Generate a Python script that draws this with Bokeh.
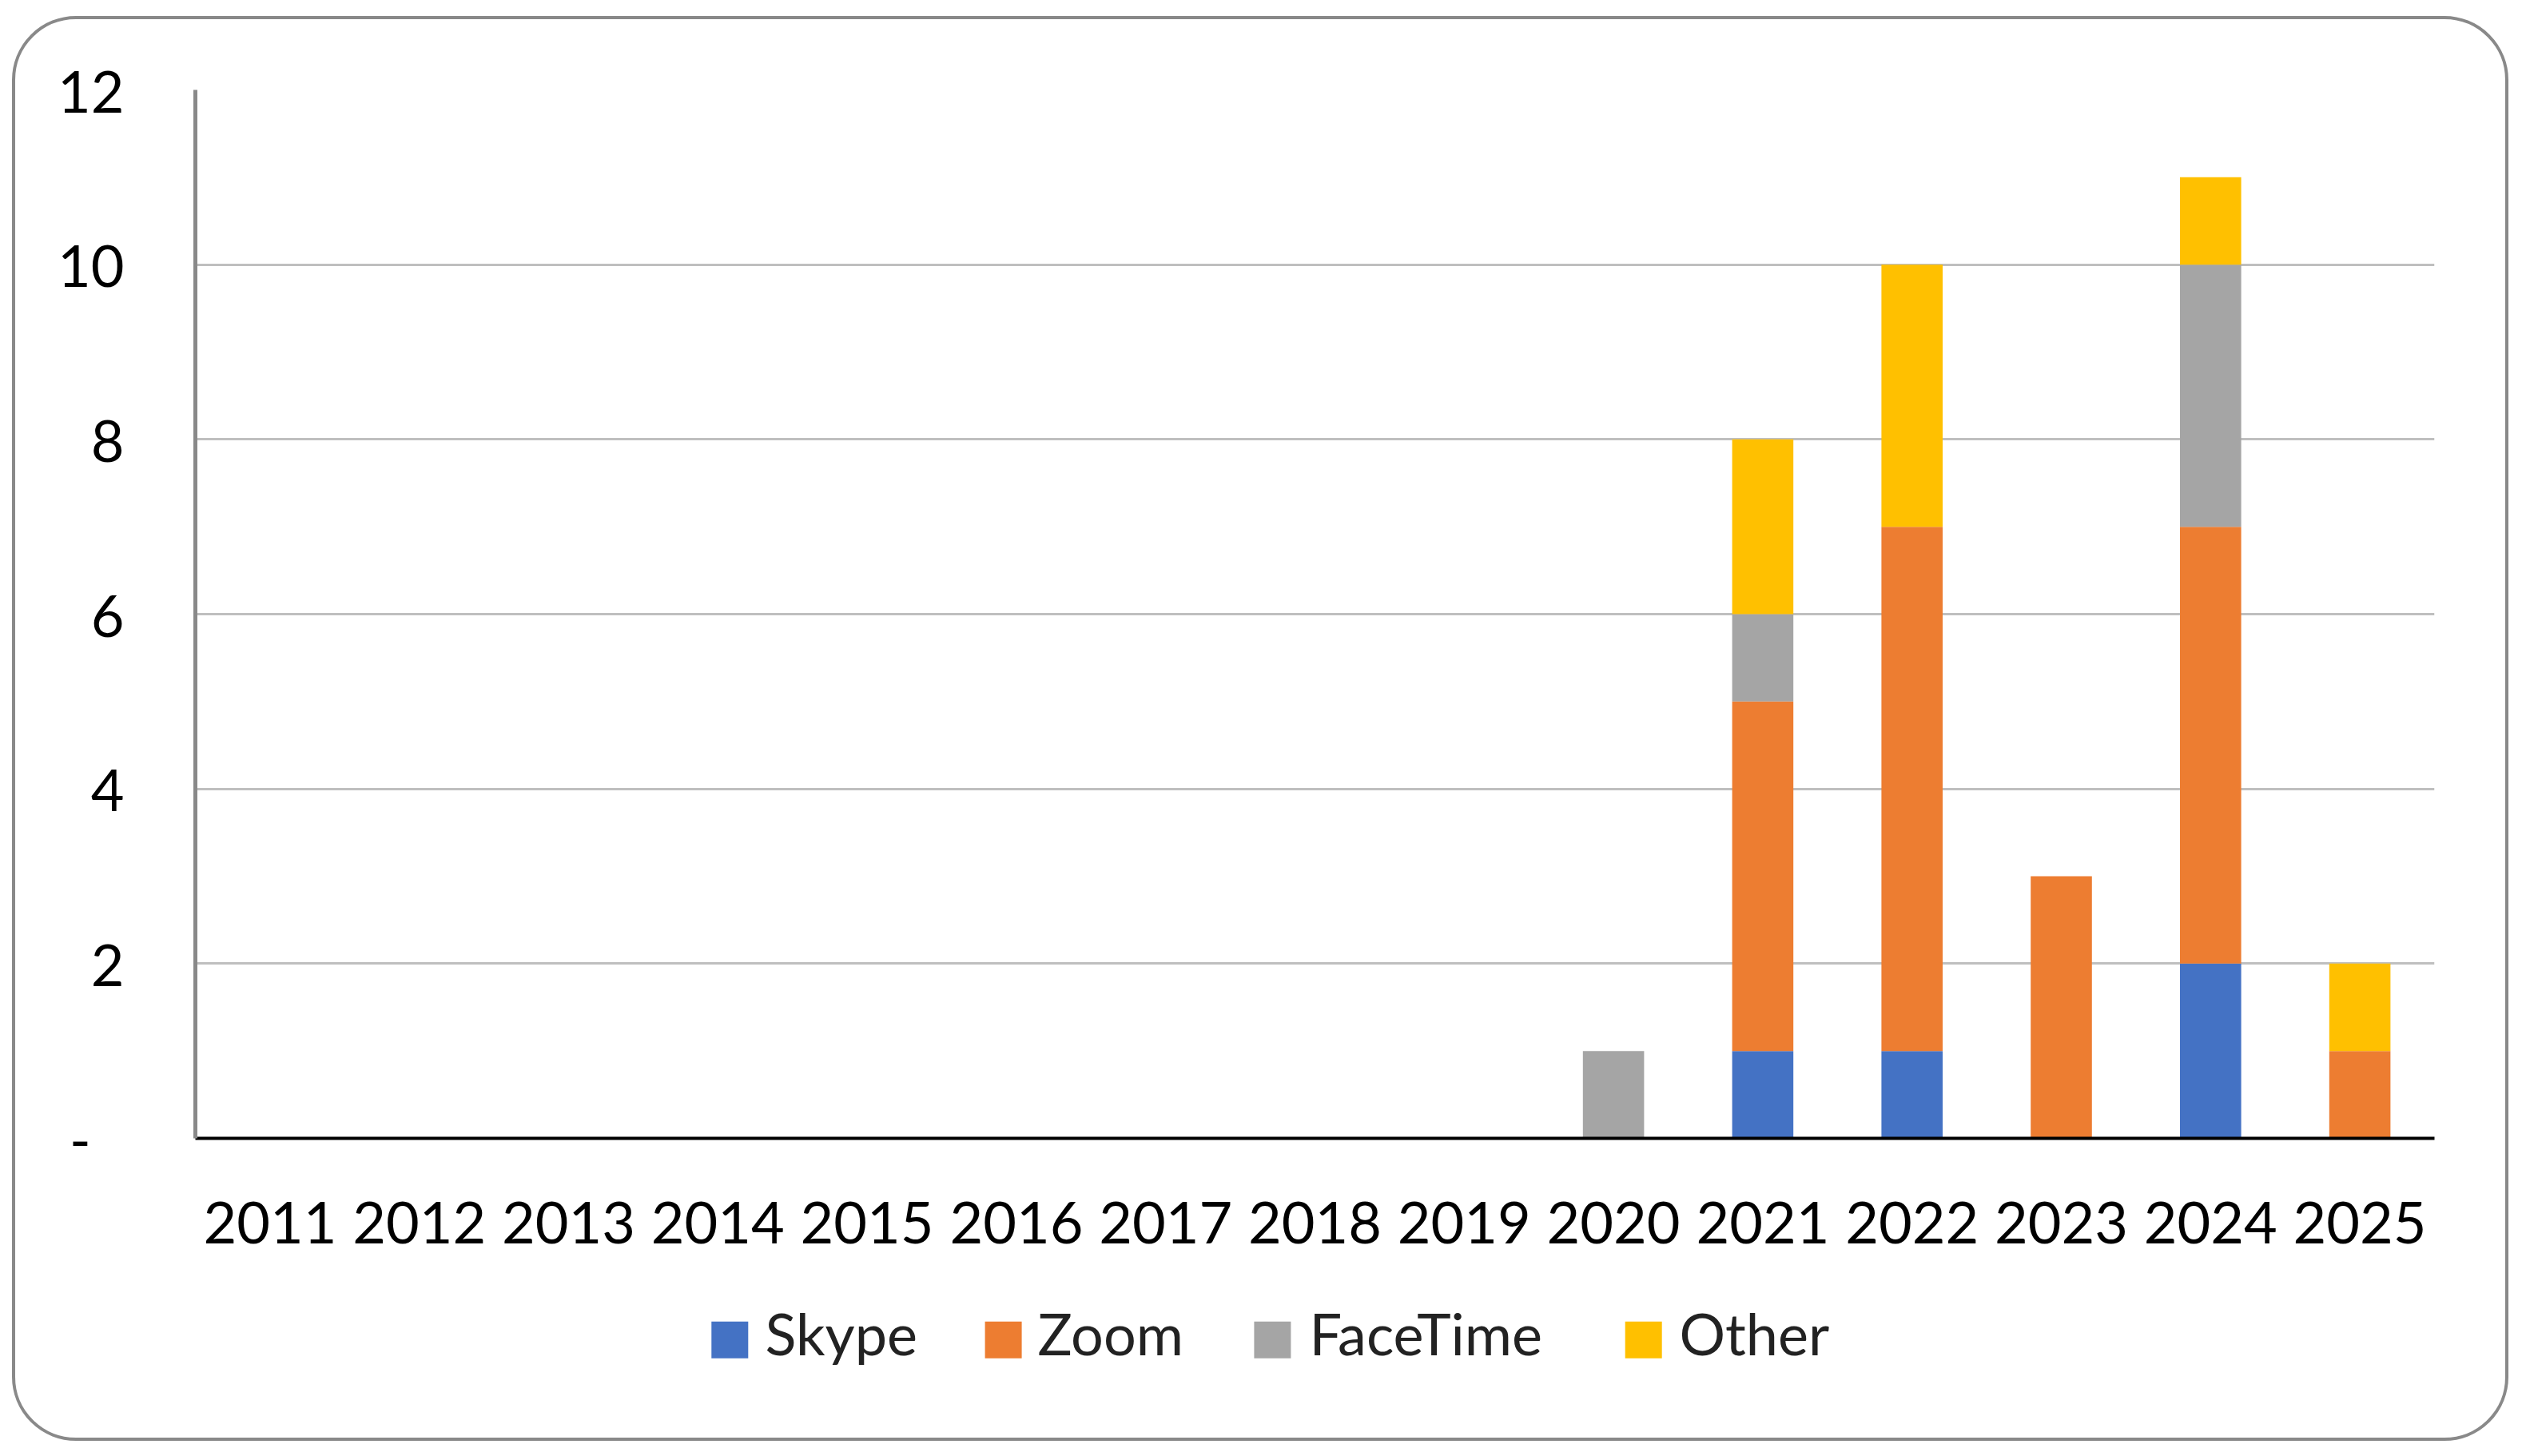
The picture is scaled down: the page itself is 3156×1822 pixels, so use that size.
from bokeh.plotting import figure
from bokeh.layouts import column
from bokeh.models import ColumnDataSource, FixedTicker, FactorRange, Range1d
from bokeh.core.properties import value
from bokeh.embed import file_html
from bokeh.resources import INLINE

# ---------------- data ----------------
years = ["2011", "2012", "2013", "2014", "2015", "2016", "2017", "2018",
         "2019", "2020", "2021", "2022", "2023", "2024", "2025"]
skype = [0, 0, 0, 0, 0, 0, 0, 0, 0, 0, 1, 1, 0, 2, 0]
zoom = [0, 0, 0, 0, 0, 0, 0, 0, 0, 0, 4, 6, 3, 5, 1]
facetime = [0, 0, 0, 0, 0, 0, 0, 0, 0, 1, 1, 0, 0, 3, 0]
other = [0, 0, 0, 0, 0, 0, 0, 0, 0, 0, 2, 3, 0, 1, 1]
series = ["Skype", "Zoom", "FaceTime", "Other"]
colors = ["#4472C4", "#ED7D31", "#A5A5A5", "#FFC000"]
y_ticks = [0, 2, 4, 6, 8, 10, 12]
y_labels = {0: "-\u2007"}

# ---------------- layout constants (pixels) ----------------
FONT = "Lato"
W = 3116
H1, H2 = 1600, 175
ML, MR = 225, 89
# legend strip: page-pixel coordinates
STRIP_TOP, STRIP_BOTTOM = 1624, 1799
FRAME_LEFT, FRAME_RIGHT = 244, 3046
swatch_x = [912.8, 1255.1, 1591.9, 2056.2]
label_x = [957, 1298, 1638, 2101]
swatch_y, swatch_size, label_baseline = 1676.3, 46, 1667

src = ColumnDataSource(dict(year=years, Skype=skype, Zoom=zoom,
                            FaceTime=facetime, Other=other))

p = figure(x_range=FactorRange(*years), y_range=Range1d(0, 12),
           width=W, height=H1, output_backend="svg", toolbar_location=None,
           min_border_left=ML, min_border_right=MR,
           min_border_top=88, min_border_bottom=200)
p.outline_line_color = None
p.background_fill_color = "white"
p.border_fill_alpha = 0

p.vbar_stack(series, x="year", width=0.41, source=src,
             fill_color=colors, line_color=None)

# axes
xa = p.xaxis[0]
xa.axis_line_color = "black"
xa.axis_line_width = 4
xa.major_tick_line_color = None
xa.minor_tick_line_color = None
xa.major_tick_out = 0
xa.major_label_standoff = 79
xa.major_label_text_font = FONT
xa.major_label_text_font_size = "72px"
xa.major_label_text_color = "black"

ya = p.yaxis[0]
ya.ticker = FixedTicker(ticks=y_ticks)
ya.major_label_overrides = y_labels
ya.axis_line_color = "#898989"
ya.axis_line_width = 5
ya.major_tick_line_color = None
ya.minor_tick_line_color = None
ya.major_tick_out = 0
ya.major_label_standoff = 89
ya.major_label_text_font = FONT
ya.major_label_text_font_size = "72px"
ya.major_label_text_color = "black"

p.xgrid.grid_line_color = None
p.ygrid.ticker = ya.ticker
p.ygrid.grid_line_color = "#BFBFBF"
p.ygrid.grid_line_width = 3

# ---------------- legend strip ----------------
q = figure(width=W, height=H2, output_backend="svg", toolbar_location=None,
           x_range=Range1d(FRAME_LEFT, FRAME_RIGHT),
           y_range=Range1d(STRIP_BOTTOM, STRIP_TOP),
           x_axis_location=None, y_axis_location=None,
           min_border_left=ML, min_border_right=MR,
           min_border_top=0, min_border_bottom=0)
q.outline_line_color = None
q.grid.grid_line_color = None
q.background_fill_alpha = 0
q.border_fill_alpha = 0

leg_src = ColumnDataSource(dict(name=series, color=colors,
                                sx=swatch_x, lx=label_x,
                                sy=[swatch_y] * len(series),
                                ly=[label_baseline] * len(series)))
q.rect(x="sx", y="sy", width=swatch_size, height=swatch_size,
       fill_color="color", line_color=None, source=leg_src)
q.text(x="lx", y="ly", text="name", source=leg_src,
       text_font=value(FONT), text_font_size="72px",
       text_baseline="alphabetic", text_align="left",
       text_color="#222222")

layout = column(p, q, spacing=0,
                styles={"margin-left": "15px", "margin-top": "20px",
                        "border": "4px solid #898989", "border-radius": "80px",
                        "box-sizing": "content-box", "background": "white"})

open("out.html", "w").write(file_html(layout, INLINE))
